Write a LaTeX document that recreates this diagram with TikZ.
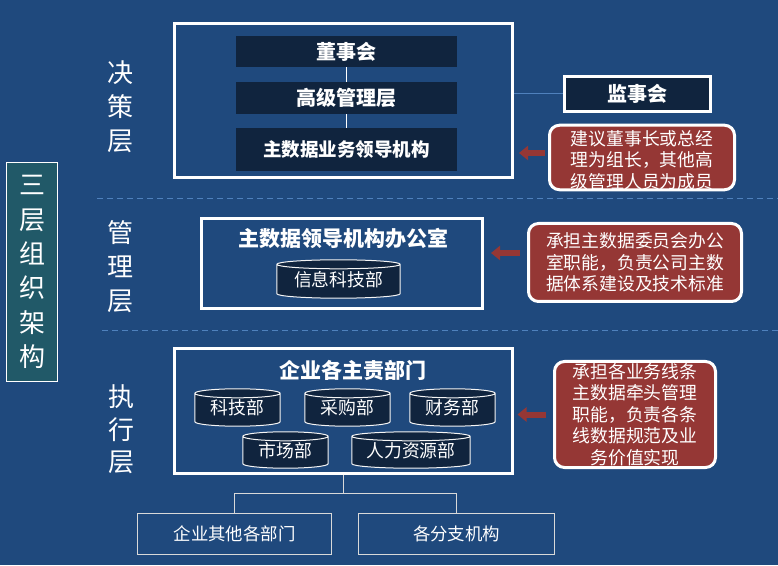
\documentclass[tikz,border=0pt]{standalone}
\usepackage{fontspec}
\newfontfamily\cjk{Noto Sans CJK SC}
\usetikzlibrary{calc,arrows.meta}
\definecolor{bgblue}{HTML}{1F497D}
\definecolor{darkbox}{HTML}{10243E}
\definecolor{redbox}{HTML}{953735}
\definecolor{tealbox}{HTML}{215968}
\definecolor{dashblue}{HTML}{4F81BD}
\definecolor{lightline}{HTML}{D9D9D9}
\pgfdeclarelayer{bg}\pgfsetlayers{bg,main}
\tikzset{
  frame/.style={draw=white, line width=3pt, inner sep=0pt},
  darkrect/.style={fill=darkbox, text=white, font=\cjk\bfseries\fontsize{20}{24}\selectfont, inner sep=0pt},
  notebox/.style={draw=white, line width=3pt, fill=redbox, rounded corners=10pt, text=white, align=center, font=\cjk\fontsize{17.8}{21.5}\selectfont, inner sep=0pt},
  cylnode/.style={text=white, font=\cjk\fontsize{17.8}{20}\selectfont, inner sep=0pt},
  cylline/.style={draw=white!92!gray, fill=darkbox, line width=1pt},
  layerlbl/.style={text=white, align=center, inner sep=0pt},
  titletext/.style={text=white, font=\cjk\bfseries\fontsize{21}{24}\selectfont, inner sep=0pt},
  redarrow/.style={draw=redbox, line width=6pt, -{Triangle[length=9pt,width=14pt]}},
  dashline/.style={draw=dashblue, line width=0.8pt, dash pattern=on 6pt off 4pt},
  conn/.style={draw=white, line width=1pt},
  bottombox/.style={draw=lightline, line width=1pt, text=white, font=\cjk\fontsize{17.4}{20}\selectfont, inner sep=0pt}
}
\newcommand\drawcyl[1]{%
  \begin{pgfonlayer}{bg}
  \draw[cylline] let \p1=(#1.north west), \p2=(#1.south east), \n1={(\x2-\x1)/2} in
    (\x1,\y1-4.5pt) -- (\x1,\y2+4.5pt) arc[start angle=180,end angle=360,x radius=\n1,y radius=4.5pt]
    -- (\x2,\y1-4.5pt) arc[start angle=0,end angle=180,x radius=\n1,y radius=4.5pt] -- cycle
    (\x1,\y1-4.5pt) arc[start angle=180,end angle=360,x radius=\n1,y radius=4.5pt];
  \end{pgfonlayer}}
\begin{document}
\begin{tikzpicture}[x=1pt,y=1pt]
\useasboundingbox (0,0) rectangle (778,565);
\begin{pgfonlayer}{bg}
\fill[bgblue] (0,0) rectangle (778,565);
\end{pgfonlayer}

% dashed separators
\draw[dashline] (97,367) -- (778,367);
\draw[dashline] (102,235) -- (778,235);

% left title
\node[draw=white, line width=1pt, fill=tealbox, minimum width=51, minimum height=219, layerlbl, font=\cjk\fontsize{26}{34.3}\selectfont] (sanceng) at (32,293) {三\\层\\组\\织\\架\\构};

% layer labels
\node[layerlbl, font=\cjk\fontsize{26}{34}\selectfont] (jcc) at (120,458) {决\\策\\层};
\node[layerlbl, font=\cjk\fontsize{26}{34}\selectfont] (glc) at (120,298) {管\\理\\层};
\node[layerlbl, font=\cjk\fontsize{26}{32.5}\selectfont] (zxc) at (121,135.5) {执\\行\\层};

% decision layer
\node[frame, minimum width=338, minimum height=154] (topbox) at (343.5,464.5) {};
\node[darkrect, minimum width=221, minimum height=31] (dsh) at (346.5,513.5) {董事会};
\node[darkrect, minimum width=221, minimum height=32] (gj) at (346.5,467) {高级管理层};
\node[darkrect, minimum width=221, minimum height=43, font=\cjk\bfseries\fontsize{18.5}{22}\selectfont] (zsj) at (346.5,415.5) {主数据业务领导机构};
\draw[conn] (dsh.south) -- (gj.north);
\draw[conn] (gj.south) -- (zsj.north);

\node[frame, fill=darkbox, text=white, font=\cjk\bfseries\fontsize{20}{24}\selectfont, minimum width=146, minimum height=35] (jsh) at (637.5,471) {监事会};
\draw[draw=dashblue, line width=1pt] (topbox.east |- jsh.west) -- (jsh.west);

\node[notebox, minimum width=185, minimum height=62] (n1) at (642,407.5) {\rule{0pt}{20pt}建议董事长或总经\\理为组长，其他高\\级管理人员为成员};
\draw[redarrow] ([xshift=-3pt,yshift=4.5pt]n1.west) -- ++(-26,0);

% management layer
\node[frame, minimum width=281, minimum height=90] (glbox) at (342,301.5) {};
\node[titletext] (gltitle) at (343,327) {主数据领导机构办公室};
\node[cylnode, minimum width=123, minimum height=38] (xxkj) at (338.5,286) {\rule{0pt}{16pt}信息科技部};
\drawcyl{xxkj}

\node[notebox, minimum width=213, minimum height=78] (n2) at (635,302.5) {承担主数据委员会办公\\室职能，负责公司主数\\据体系建设及技术标准};
\draw[redarrow] ([xshift=-7pt,yshift=9.5pt]n2.west) -- ++(-29,0);

% execution layer
\node[frame, minimum width=338, minimum height=125] (zxbox) at (343.5,154) {};
\node[titletext] (zxtitle) at (353,195) {企业各主责部门};
\node[cylnode, minimum width=85, minimum height=37] (kjb) at (237.5,157.5) {\rule{0pt}{16pt}科技部};
\node[cylnode, minimum width=85, minimum height=37] (cgb) at (347.5,157.5) {\rule{0pt}{16pt}采购部};
\node[cylnode, minimum width=85, minimum height=37] (cwb) at (452.5,157.5) {\rule{0pt}{16pt}财务部};
\node[cylnode, minimum width=85, minimum height=36] (scb) at (285.5,115) {\rule{0pt}{16pt}市场部};
\node[cylnode, minimum width=118, minimum height=36] (rlb) at (411,115) {\rule{0pt}{16pt}人力资源部};
\drawcyl{kjb}\drawcyl{cgb}\drawcyl{cwb}\drawcyl{scb}\drawcyl{rlb}

\node[notebox, minimum width=161, minimum height=106] (n3) at (635,150.5) {承担各业务线条\\主数据牵头管理\\职能，负责各条\\线数据规范及业\\务价值实现};
\draw[redarrow] ([xshift=-7.5pt]n3.west) -- ++(-28,0);

% bottom boxes
\node[bottombox, minimum width=194, minimum height=41] (bb1) at (234.5,31) {企业其他各部门};
\node[bottombox, minimum width=196, minimum height=41] (bb2) at (456.5,31) {各分支机构};
\draw[draw=lightline, line width=1pt] (zxbox.south) -- ++(0,-18) -| (bb1.north);
\draw[draw=lightline, line width=1pt] (zxbox.south) -- ++(0,-18) -| (bb2.north);
\end{tikzpicture}
\end{document}
